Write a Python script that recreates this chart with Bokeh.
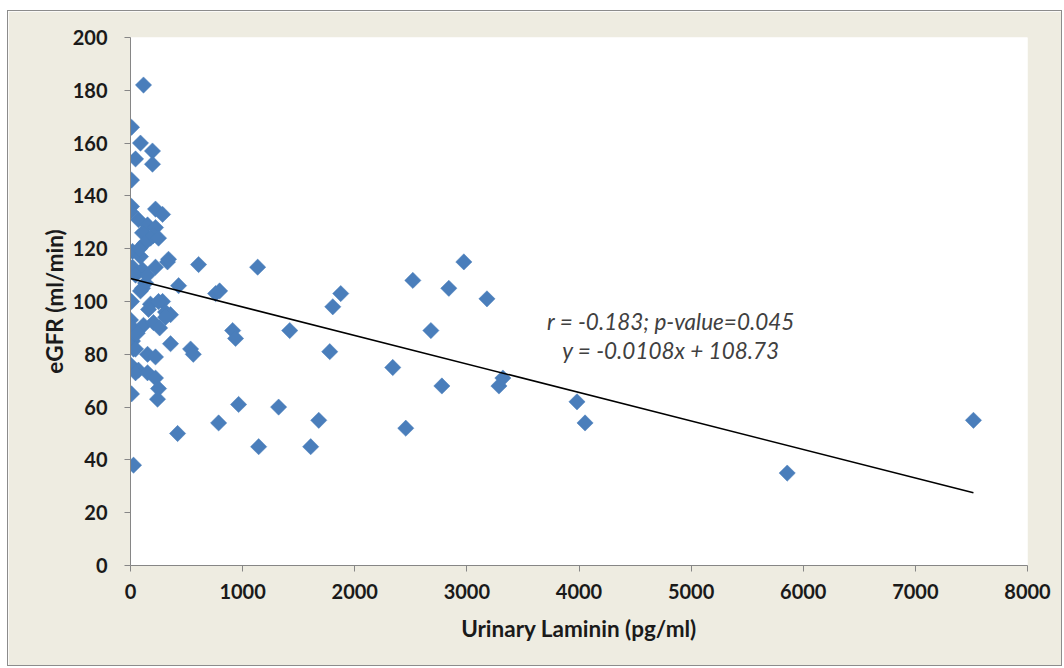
import numpy as np
from bokeh.plotting import figure
from bokeh.models import Range1d, FixedTicker, ColumnDataSource
from bokeh.core.properties import value
from bokeh.embed import file_html
from bokeh.resources import INLINE

# Urinary laminin (pg/ml)
laminin = [
    116, 9, 89, 196, 45, 196, 9, 9, 0, 223, 286, 71, 152, 223, 107, 205, 178, 250,
    125, 18, 89, 330, 18, 107, 223, 45, 134, 89, 107, 9, 178, 286, 250, 161, 312,
    357, 330, 0, 18, 116, 205, 312, 357, 18, 27, 0, 45, 152, 223, 0, 71, 45, 152,
    223, 250, 241, 9, 27, 60, 80, 150, 260,
    339, 420, 429, 536, 560, 607, 759, 795, 786, 911, 937, 964, 1134, 1143, 1321,
    1420, 1607, 1679, 1777, 1804, 1875, 2339, 2455, 2518, 2679, 2777, 2839, 2973,
    3179, 3286, 3321, 3982, 4054, 5857, 7518,
]
# eGFR (ml/min)
egfr = [
    182, 166, 160, 157, 154, 152, 146, 136, 134, 135, 133, 131, 129, 128, 126, 125,
    124, 124, 122, 119, 117, 115, 113, 112, 113, 110, 107, 104, 105, 100, 99, 100,
    100, 97, 96, 95, 95, 93, 90, 91, 92, 94, 84, 85, 82, 83, 82, 80, 79, 76, 74,
    73, 73, 71, 67, 63, 65, 38, 88, 120, 110, 90,
    116, 50, 106, 82, 80, 114, 103, 104, 54, 89, 86, 61, 113, 45, 60,
    89, 45, 55, 81, 98, 103, 75, 52, 108, 89, 68, 105, 115,
    101, 68, 71, 62, 54, 35, 55,
]

slope = -0.0108
intercept = 108.73
ann_lines = ["r = -0.183; p-value=0.045", "y = -0.0108x + 108.73"]

x_ticks = [0, 1000, 2000, 3000, 4000, 5000, 6000, 7000, 8000]
y_ticks = [0, 20, 40, 60, 80, 100, 120, 140, 160, 180, 200]

FONT = "Lato"

p = figure(width=1055, height=656, output_backend="svg", toolbar_location=None,
           x_range=Range1d(0, 8000), y_range=Range1d(0, 200),
           min_border_left=122, min_border_right=36, min_border_top=26,
           min_border_bottom=102)
p.border_fill_color = "#eeece1"
p.background_fill_color = "white"
p.outline_line_color = None
p.xgrid.visible = False
p.ygrid.visible = False
p.styles = {"border": "1px solid #8c8c8c", "margin-left": "7px", "margin-top": "10px"}

src = ColumnDataSource(dict(x=laminin, y=egfr))
p.scatter("x", "y", source=src, marker="square", size=11.5, angle=np.pi / 4,
          fill_color="#4a7ebb", line_color="#4a7ebb", line_width=0.5)

xl = [0, max(laminin)]
p.line(xl, [intercept + slope * v for v in xl], line_color="black", line_width=1.6)

p.text(x=[4820, 4820], y=[92.3, 81.3], text=ann_lines, text_align="center",
       text_baseline="middle", text_font=value(FONT), text_font_style="italic",
       text_font_size="22.5px", text_color="#404040")

for ax in (p.xaxis[0], p.yaxis[0]):
    ax.axis_line_color = "#868686"
    ax.major_tick_line_color = "#868686"
    ax.major_tick_in = 0
    ax.major_tick_out = 6
    ax.minor_tick_line_color = None
    ax.major_label_text_font = FONT
    ax.major_label_text_font_style = "bold"
    ax.major_label_text_font_size = "20px"
    ax.major_label_text_color = "#1a1a1a"
    ax.axis_label_text_font = FONT
    ax.axis_label_text_font_style = "bold"
    ax.axis_label_text_font_size = "22.5px"
    ax.axis_label_text_color = "#1a1a1a"

p.xaxis[0].ticker = FixedTicker(ticks=x_ticks)
p.yaxis[0].ticker = FixedTicker(ticks=y_ticks)
p.xaxis[0].axis_label = "Urinary Laminin (pg/ml)"
p.yaxis[0].axis_label = "eGFR (ml/min)"
p.xaxis[0].major_label_standoff = 12
p.yaxis[0].major_label_standoff = 17
p.xaxis[0].axis_label_standoff = 13
p.yaxis[0].axis_label_standoff = 2

open("out.html", "w").write(file_html(p, INLINE))
